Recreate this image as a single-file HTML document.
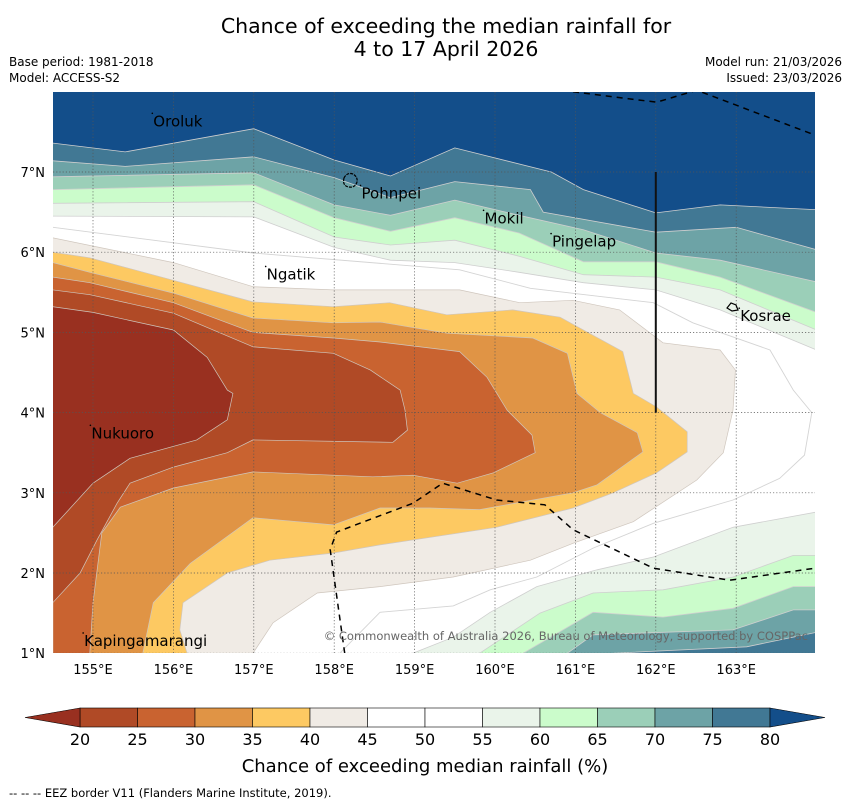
<!DOCTYPE html>
<html><head><meta charset="utf-8">
<style>
html,body{margin:0;padding:0;background:#fff;}
svg{display:block;font-family:"DejaVu Sans","Liberation Sans",sans-serif;}
</style></head>
<body>
<svg id="chart" width="850" height="804" viewBox="0 0 850 804" xmlns="http://www.w3.org/2000/svg">
<defs><clipPath id="mapclip"><rect x="53" y="92" width="762" height="561"/></clipPath></defs>
<text x="446" y="33" text-anchor="middle" font-size="20.5">Chance of exceeding the median rainfall for</text>
<text x="446" y="56" text-anchor="middle" font-size="20.5">4 to 17 April 2026</text>
<text x="9" y="66" font-size="12">Base period: 1981-2018</text>
<text x="9" y="82" font-size="12">Model: ACCESS-S2</text>
<text x="842" y="66" font-size="12" text-anchor="end">Model run: 21/03/2026</text>
<text x="842" y="82" font-size="12" text-anchor="end">Issued: 23/03/2026</text>
<g id="map" clip-path="url(#mapclip)">
<rect x="53" y="92" width="762" height="561" fill="#fff"/>
</g>
<g id="overlay"></g>
<g id="cbar"></g>
<text x="425" y="772" text-anchor="middle" font-size="18">Chance of exceeding median rainfall (%)</text>
<text x="9" y="797" font-size="11.5">--  --  -- EEZ border V11 (Flanders Marine Institute, 2019).</text>
</svg>
<script>
// ---- contour data (lon, lat) ----
const lowLevels = [45, 40, 35, 30, 25, 20];
const lowColors = ['#f0ebe5', '#fdc962', '#e09445', '#c96330', '#b04a26', '#993020'];
const c45 = [[154.5,6.18],[156.0,5.87],[156.99,5.57],[157.99,5.53],[159.56,5.53],[160.31,5.37],[160.97,5.40],[161.55,5.28],[162.09,4.87],[162.8,4.78],[162.99,4.53],[162.96,4.03],[162.84,3.50],[162.51,3.16],[161.72,2.64],[160.97,2.37],[160.44,2.16],[159.48,1.95],[158.57,1.83],[157.79,1.75],[157.24,1.38],[156.99,1.0]];
const c40 = [[154.5,6.0],[154.96,5.93],[156.0,5.65],[156.99,5.38],[157.99,5.32],[158.69,5.37],[159.40,5.22],[160.22,5.28],[160.81,5.19],[161.59,4.76],[161.72,4.24],[162.01,4.07],[162.39,3.76],[162.39,3.51],[162.01,3.25],[161.47,3.0],[160.97,2.81],[160.02,2.57],[158.57,2.35],[157.99,2.25],[157.2,2.16],[156.67,2.0],[156.12,1.63],[156.08,1.29],[156.17,1.0]];
const c35 = [[154.5,5.87],[154.96,5.75],[156.0,5.49],[156.99,5.18],[157.99,5.12],[158.57,5.13],[159.40,4.99],[160.47,4.93],[160.90,4.74],[161.02,4.24],[161.31,4.0],[161.77,3.75],[161.84,3.51],[161.27,3.10],[160.97,3.0],[159.81,2.79],[159.19,2.81],[158.57,2.81],[157.99,2.60],[156.99,2.69],[156.21,2.12],[155.75,1.63],[155.62,1.0]];
const c30 = [[154.5,5.69],[154.96,5.62],[156.0,5.37],[156.99,5.0],[157.99,4.93],[158.57,4.88],[159.56,4.76],[159.9,4.44],[160.15,4.03],[160.46,3.72],[160.5,3.50],[159.98,3.25],[159.53,3.12],[158.98,3.22],[158.48,3.20],[156.99,3.26],[156.0,3.06],[155.34,2.82],[155.11,2.50],[155.0,1.63],[154.96,1.0]];
const c25 = [[154.5,5.53],[154.96,5.47],[156.0,5.24],[156.99,4.82],[157.99,4.74],[158.45,4.53],[158.82,4.28],[158.88,4.03],[158.91,3.78],[158.73,3.63],[156.99,3.66],[156.67,3.50],[156.0,3.32],[155.46,3.12],[155.3,2.87],[155.05,2.41],[154.84,2.0],[154.5,1.63]];
const c20 = [[154.5,5.32],[155.0,5.25],[156.0,5.03],[156.42,4.69],[156.67,4.28],[156.74,4.24],[156.67,3.91],[156.29,3.66],[155.46,3.43],[155.0,3.12],[154.5,2.57]];

const highLevels = [55, 60, 65, 70, 75, 80];
const highColors = ['#eaf4ea', '#cbfccb', '#9bcfb8', '#6da3a6', '#417894', '#134e8a'];
const c55N = [[154.5,6.45],[157,6.44],[158,6.06],[158.7,5.90],[159.5,5.87],[160.3,5.75],[161.1,5.62],[162,5.53],[162.8,5.28],[164,4.78]];
const c60N = [[154.5,6.61],[157,6.63],[158,6.19],[158.7,6.09],[159.5,6.15],[160.3,5.95],[161.1,5.72],[162,5.69],[162.8,5.53],[164,5.03]];
const c65N = [[154.5,6.78],[157,6.84],[158,6.43],[158.7,6.26],[159.5,6.43],[160.3,6.24],[161.1,5.88],[162,5.88],[162.8,5.69],[164,5.25]];
const c70N = [[154.5,6.94],[157,6.99],[158,6.59],[158.7,6.46],[159.5,6.65],[160.3,6.46],[161.1,6.28],[162,5.99],[162.8,5.9],[164,5.63]];
const c75N = [[154.5,7.14],[155.4,7.07],[157,7.19],[158,6.93],[158.7,6.68],[159.5,6.88],[160.44,6.78],[160.6,6.5],[162,6.25],[163,6.31],[164,6.03]];
const c80N = [[154.5,7.36],[155.4,7.25],[157,7.54],[158,7.15],[158.7,6.95],[159.5,7.30],[160.7,7.0],[161.1,6.78],[162,6.49],[162.8,6.59],[164,6.53]];
const c55S = [[158.98,1.0],[159.48,1.20],[159.94,1.51],[160.52,1.83],[161.27,2.04],[161.97,2.20],[162.96,2.57],[164,2.76]];
const c60S = [[159.81,1.0],[160.56,1.50],[161.22,1.75],[162.09,1.79],[162.96,1.95],[163.71,2.22],[164,2.22]];
const c65S = [[160.35,1.0],[161.22,1.51],[162.09,1.45],[162.96,1.56],[163.71,1.83],[164,1.83]];
const c70S = [[160.9,1.0],[161.22,1.23],[162.96,1.29],[163.71,1.54],[164,1.54]];
const c75S = [[161.47,1.0],[163.13,1.08],[164,1.26]];
const c50 = [[154.5,6.31],[156.99,5.99],[159.56,5.78],[160.44,5.55],[161.97,5.37],[162.46,5.12],[163.42,4.78],[163.71,4.28],[163.94,4.0],[163.85,3.47],[163.54,3.18],[162.96,2.91],[161.97,2.62],[161.22,2.31],[160.52,1.95],[159.94,1.79],[159.48,1.59],[158.57,1.51],[158.07,1.0]];

const eezTop = [[160.97,8.0],[162.01,7.87],[162.51,8.02],[163.98,7.46]];
const eezMid = [[158.13,1.0],[157.95,2.29],[158.03,2.51],[158.98,2.87],[159.35,3.12],[160.02,2.91],[160.62,2.85],[160.97,2.54],[161.97,2.06],[162.92,1.91],[163.98,2.06]];

const lonTicks = [155,156,157,158,159,160,161,162,163];
const latTicks = [1,2,3,4,5,6,7];
const places = ['Oroluk','Pohnpei','Mokil','Pingelap','Ngatik','Kosrae','Nukuoro','Kapingamarangi'];
const placeLon = [155.75,158.34,159.87,160.71,157.16,163.05,154.98,154.89];
const placeLat = [7.57,6.67,6.36,6.07,5.66,5.14,3.68,1.09];

const cbarLevels = [20,25,30,35,40,45,50,55,60,65,70,75,80];
const cbarColors = ['#b04a26','#c96330','#e09445','#fdc962','#f0ebe5','#ffffff','#ffffff','#eaf4ea','#cbfccb','#9bcfb8','#6da3a6','#417894'];

// ---- axes ----
const X = lon => 93 + (lon - 155) * 80.4;
const Y = lat => 172 - (lat - 7) * 80.2;
const NS = 'http://www.w3.org/2000/svg';
const map = document.getElementById('map');
const overlay = document.getElementById('overlay');
function mk(tag, attrs, parent){ const e=document.createElementNS(NS,tag); for(const k in attrs) e.setAttribute(k,attrs[k]); parent.appendChild(e); return e; }
const ptsStr = arr => arr.map(p => X(p[0]).toFixed(1)+','+Y(p[1]).toFixed(1)).join(' ');

const northSets = [c55N,c60N,c65N,c70N,c75N,c80N];
northSets.forEach((c,i)=>{
  const arr = [[154.3,c[0][1]]].concat(c,[[164.3,c[c.length-1][1]],[164.3,8.2],[154.3,8.2]]);
  const el = mk('polygon',{points:ptsStr(arr),fill:highColors[i],stroke:'#cfcfcf','stroke-width':0.8},map);
  
  
});
const southSets = [c55S,c60S,c65S,c70S,c75S];
southSets.forEach((c,i)=>{
  const arr = [[c[0][0],0.8]].concat(c,[[164.3,c[c.length-1][1]],[164.3,0.8]]);
  const el = mk('polygon',{points:ptsStr(arr),fill:highColors[i],stroke:'#cfcfcf','stroke-width':0.8},map);
  
  
});
{
  const el = mk('polyline',{points:ptsStr(c50),fill:'none',stroke:'#d4d4d4','stroke-width':0.9},map);
  
  
}
const lowSets = [c45,c40,c35,c30,c25,c20];
lowSets.forEach((c,i)=>{
  const last = c[c.length-1];
  const arr = [[154.3,c[0][1]]].concat(c,[[last[0],0.8],[154.3,0.8]]);
  const el = mk('polygon',{points:ptsStr(arr),fill:lowColors[i],stroke:'#cfc6bd','stroke-width':0.7},map);
  
  
});
lonTicks.forEach(l=>{
  const el = mk('line',{x1:X(l),x2:X(l),y1:92,y2:653,stroke:'#555','stroke-width':0.7,'stroke-dasharray':'1.2,2'},map);
  
  
});
latTicks.forEach(l=>{
  const el = mk('line',{x1:53,x2:815,y1:Y(l),y2:Y(l),stroke:'#555','stroke-width':0.7,'stroke-dasharray':'1.2,2'},map);
  
  
});
[eezTop, eezMid].forEach((c,i)=>{
  const el = mk('polyline',{points:ptsStr(c),fill:'none',stroke:'#000','stroke-width':1.5,'stroke-dasharray':'6,5'},map);
  
  
});
{
  const el = mk('line',{x1:X(162),x2:X(162),y1:Y(7),y2:Y(4),stroke:'#111','stroke-width':2},map);
  
  
}
{
  const el = mk('path',{d:'M344,178 q3,-6 9,-4 q5,3 4,8 q-2,6 -8,5 q-7,-1 -5,-9z',fill:'none',stroke:'#000','stroke-width':1.2,'stroke-dasharray':'3,1'},map);
  
  
  const k = mk('path',{d:'M727,308 l4,-5 l5,2 l2,5 l-6,1z',fill:'none',stroke:'#000','stroke-width':1.2},map);
  
  
}
places.forEach((p,i)=>{
  const x = X(placeLon[i]), y = Y(placeLat[i]);
  const d = mk('circle',{cx:x-1,cy:y-13,r:0.8,fill:'#000'},map);
  
  
  const t = mk('text',{x:x,y:y,'font-size':15,fill:'#000'},map);
  t.textContent = p;
  
  
});
{
  const t = mk('text',{x:808,y:640,'font-size':11.5,fill:'#666','text-anchor':'end'},map);
  t.textContent = '© Commonwealth of Australia 2026, Bureau of Meteorology, supported by COSPPac';
  
  
}
lonTicks.forEach(l=>{
  const t = mk('text',{x:X(l),y:674,'font-size':13,'text-anchor':'middle'},overlay);
  t.textContent = l + '°E';
  
  
});
latTicks.forEach(l=>{
  const t = mk('text',{x:45,y:Y(l)+5,'font-size':13,'text-anchor':'end'},overlay);
  t.textContent = l + '°N';
  
  
});
const cb = document.getElementById('cbar');
const cbX = v => 80 + (v - 20) / 60 * 690;
cbarColors.forEach((col,i)=>{
  const x0 = cbX(cbarLevels[i]), x1 = cbX(cbarLevels[i+1]);
  const r = mk('rect',{x:x0,y:708,width:x1-x0,height:19,fill:col,stroke:'#000','stroke-width':0.6},cb);
  
  
});
{
  const l = mk('polygon',{points:'80,708 25,717.5 80,727',fill:'#993020',stroke:'#000','stroke-width':0.6},cb);
  
  
  const r = mk('polygon',{points:'770,708 825,717.5 770,727',fill:'#134e8a',stroke:'#000','stroke-width':0.6},cb);
  
  
}
cbarLevels.forEach(v=>{
  const t = mk('text',{x:cbX(v),y:745,'font-size':16,'text-anchor':'middle'},cb);
  t.textContent = v;
  
  
});
</script>
</body></html>
